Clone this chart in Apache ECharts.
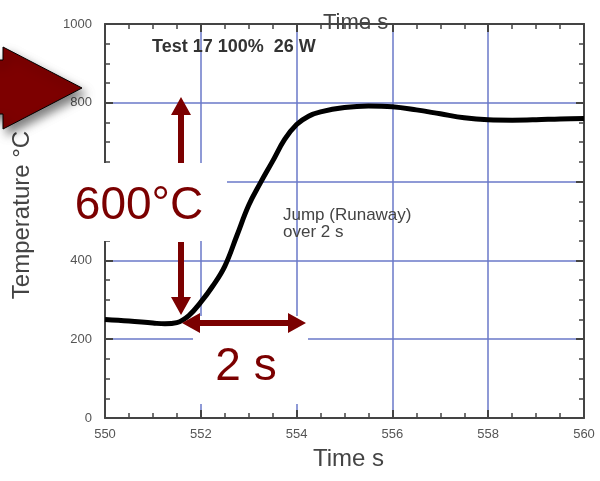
<!DOCTYPE html>
<html>
<head>
<meta charset="utf-8">
<script src="https://cdn.jsdelivr.net/npm/echarts@6/dist/echarts.min.js"></script>
<style>html,body{margin:0;padding:0;background:#fff;}#c{width:600px;height:481px;}</style>
</head>
<body>
<div id="c"></div>
<script>
// ---- data ----
const times = [550, 550.5, 551, 551.25, 551.5, 551.75, 552, 552.25, 552.5, 552.75, 553, 553.25, 553.5, 553.75, 554, 554.25, 554.5, 555, 555.5, 556, 556.5, 557, 557.5, 558, 558.5, 559, 559.5, 560];
const temps = [250, 246, 241, 239, 242, 260, 294, 335, 385, 462, 540, 598, 652, 707, 745, 766, 777, 788, 792, 790, 782, 772, 762, 757, 756, 757, 759, 760];
const xTicks = [550, 552, 554, 556, 558, 560];
const yTicks = [0, 200, 400, 600, 800, 1000];
const xName = 'Time s';
const yName = 'Temperature °C';
const topTitle = 'Time s';
const testLabel = 'Test 17 100%  26 W';
const jumpLabel = 'Jump (Runaway)\nover 2 s';
const deltaT = '600°C';
const deltaTime = '2 s';

const DR = '#7b0000';
const FONT = '"Liberation Sans", Arial, Helvetica, sans-serif';
const AX = '#444';
const GRIDC = '#6a78c8';

function arrow(x1, y1, x2, y2, heads) {
  const dx = x2 - x1, dy = y2 - y1, L = Math.hypot(dx, dy);
  const ux = dx / L, uy = dy / L, nx = -uy, ny = ux;
  const s = 3, h = 10, hl = 18;
  const p = (t, n) => [x1 + ux * t + nx * n, y1 + uy * t + ny * n];
  const pts = [];
  if (heads[0]) pts.push(p(0, 0), p(hl, h), p(hl, s)); else pts.push(p(0, s));
  if (heads[1]) pts.push(p(L - hl, s), p(L - hl, h), p(L, 0), p(L - hl, -h), p(L - hl, -s));
  else pts.push(p(L, s), p(L, -s));
  if (heads[0]) pts.push(p(hl, -s), p(hl, -h)); else pts.push(p(0, -s));
  return pts;
}

const chart = echarts.init(document.getElementById('c'), null, {renderer: 'canvas'});

const baseX = {
  type: 'value', min: xTicks[0], max: xTicks[xTicks.length - 1], interval: 2,
  axisLine: {show: true, onZero: false, lineStyle: {color: AX, width: 2}},
  axisTick: {show: true, inside: true, length: 8, lineStyle: {color: AX, width: 2}},
  minorTick: {show: true, splitNumber: 4, length: 5, lineStyle: {color: AX, width: 1.5}},
};
const baseY = {
  type: 'value', min: yTicks[0], max: yTicks[yTicks.length - 1], interval: 200,
  axisLine: {show: true, onZero: false, lineStyle: {color: AX, width: 2}},
  axisTick: {show: true, inside: true, length: 8, lineStyle: {color: AX, width: 2}},
  minorTick: {show: true, splitNumber: 4, length: 5, lineStyle: {color: AX, width: 1.5}},
};

chart.setOption({
  animation: false,
  backgroundColor: '#fff',
  title: {
    text: topTitle, left: 318, top: 7,
    textStyle: {fontFamily: FONT, fontSize: 22, fontWeight: 'normal', color: '#444'}
  },
  grid: {left: 105, right: 16, top: 24, bottom: 63},
  xAxis: [
    Object.assign({}, baseX, {
      position: 'bottom',
      name: xName, nameLocation: 'middle', nameGap: 29,
      nameTextStyle: {fontFamily: FONT, fontSize: 24, color: '#444', padding: [0, 0, 0, 8]},
      axisLabel: {show: true, margin: 10, fontFamily: FONT, fontSize: 13, color: '#555',
        formatter: v => String(v)},
      splitLine: {show: true, lineStyle: {color: GRIDC, width: 1.5}}
    }),
    Object.assign({}, baseX, {
      position: 'top',
      axisLabel: {show: false}, splitLine: {show: false}
    })
  ],
  yAxis: [
    Object.assign({}, baseY, {
      position: 'left',
      name: yName, nameLocation: 'middle', nameGap: 71, nameRotate: 90,
      nameTextStyle: {fontFamily: FONT, fontSize: 24, color: '#444', padding: [0, 0, 0, 12]},
      axisLabel: {show: true, margin: 13, fontFamily: FONT, fontSize: 13, color: '#555',
        formatter: v => String(v)},
      splitLine: {show: true, lineStyle: {color: GRIDC, width: 1.5}}
    }),
    Object.assign({}, baseY, {
      position: 'right',
      axisLabel: {show: false}, splitLine: {show: false}
    })
  ],
  series: [{
    type: 'line',
    xAxisIndex: 0, yAxisIndex: 0,
    data: times.map((t, i) => [t, temps[i]]),
    smooth: 0.4,
    showSymbol: false,
    z: 5,
    lineStyle: {color: '#000', width: 5}
  }],
  graphic: [
    // white masks behind annotation texts
    {type: 'rect', z: 3, shape: {x: 55, y: 163, width: 172, height: 78}, style: {fill: '#fff'}},
    {type: 'rect', z: 3, shape: {x: 193, y: 316, width: 115, height: 88}, style: {fill: '#fff'}},
    // big block arrow on the left
    {type: 'polygon', z: 20,
      shape: {points: [[-30, 60], [3, 60], [3, 47], [82, 88], [3, 129], [3, 114], [-30, 114]]},
      style: {fill: '#7d0000', stroke: '#000', lineWidth: 1,
        shadowBlur: 10, shadowOffsetX: 4, shadowOffsetY: 6, shadowColor: 'rgba(0,0,0,0.5)'}},
    // vertical arrows (600 °C)
    {type: 'polygon', z: 20, shape: {points: arrow(181, 163, 181, 97, [false, true])}, style: {fill: DR}},
    {type: 'polygon', z: 20, shape: {points: arrow(181, 242, 181, 315, [false, true])}, style: {fill: DR}},
    // horizontal double arrow (2 s)
    {type: 'polygon', z: 20, shape: {points: arrow(182, 323, 306, 323, [true, true])}, style: {fill: DR}},
    // texts
    {type: 'text', z: 21, style: {text: deltaT, x: 139, y: 206, align: 'center', verticalAlign: 'middle',
      fontFamily: FONT, fontSize: 46, fill: DR}},
    {type: 'text', z: 21, style: {text: deltaTime, x: 246, y: 367, align: 'center', verticalAlign: 'middle',
      fontFamily: FONT, fontSize: 46, fill: DR}},
    {type: 'text', z: 21, style: {text: testLabel, x: 152, y: 47, align: 'left', verticalAlign: 'middle',
      fontFamily: FONT, fontSize: 18, fontWeight: 'bold', fill: '#333'}},
    {type: 'text', z: 21, style: {text: jumpLabel, x: 283, y: 207, align: 'left', verticalAlign: 'top',
      fontFamily: FONT, fontSize: 17, lineHeight: 17, fill: '#444'}}
  ]
});
</script>
</body>
</html>
